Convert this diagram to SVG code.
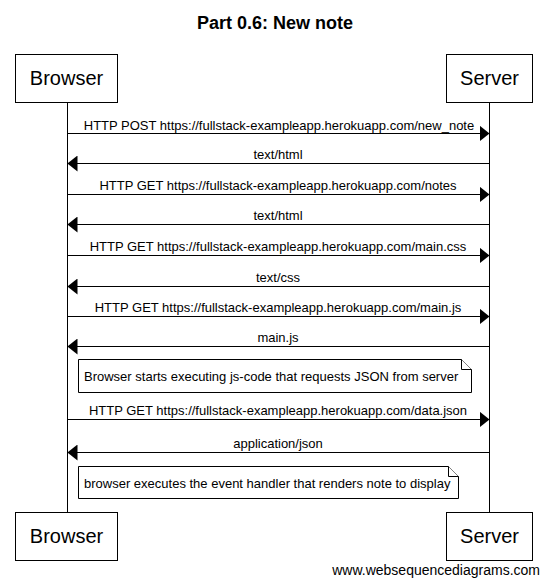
<svg xmlns="http://www.w3.org/2000/svg" width="549" height="585" viewBox="0 0 549 585">
<defs>
<marker id="ah" markerWidth="10" markerHeight="16" refX="10" refY="8" orient="auto" markerUnits="userSpaceOnUse">
<path d="M0,0 L10,8 L0,16 Z" fill="#000"/>
</marker>
</defs>
<style>
text{font-family:"Liberation Sans",Arial,sans-serif;fill:#000}
.title{font-size:18px;font-weight:bold}
.part{font-size:20px}
.lbl{font-size:13px}
.box{fill:#fff;stroke:#000;stroke-width:1}
.life{stroke:#000;stroke-width:1}
.msg{stroke:#000;stroke-width:1;fill:none;marker-end:url(#ah)}
.note{fill:#fff;stroke:#000;stroke-width:1}
</style>
<rect width="549" height="585" fill="#fff"/>
<text class="title" x="275" y="29" text-anchor="middle">Part 0.6: New note</text>
<g id="lifelines">
<line class="life" x1="67.5" y1="102" x2="67.5" y2="512"/>
<line class="life" x1="489.5" y1="102" x2="489.5" y2="512"/>
</g>
<g id="browser">
<rect class="box" x="15.5" y="54.5" width="102" height="48"/>
<text class="part" x="66.5" y="85" text-anchor="middle">Browser</text>
</g>
<g id="server">
<rect class="box" x="446.5" y="54.5" width="86" height="48"/>
<text class="part" x="489.5" y="85" text-anchor="middle">Server</text>
</g>
<g id="browser-bottom">
<rect class="box" x="15.5" y="512.5" width="102" height="48"/>
<text class="part" x="66.5" y="543" text-anchor="middle">Browser</text>
</g>
<g id="server-bottom">
<rect class="box" x="446.5" y="512.5" width="86" height="48"/>
<text class="part" x="489.5" y="543" text-anchor="middle">Server</text>
</g>
<g id="connectors">
<line class="msg" x1="67.5" y1="133.5" x2="489.5" y2="133.5"/>
<text class="lbl" x="279" y="130" text-anchor="middle">HTTP POST https://fullstack-exampleapp.herokuapp.com/new_note</text>
<line class="msg" x1="489.5" y1="163.5" x2="67.5" y2="163.5"/>
<text class="lbl" x="278" y="159" text-anchor="middle">text/html</text>
<line class="msg" x1="67.5" y1="194.5" x2="489.5" y2="194.5"/>
<text class="lbl" x="278" y="190" text-anchor="middle">HTTP GET https://fullstack-exampleapp.herokuapp.com/notes</text>
<line class="msg" x1="489.5" y1="224.5" x2="67.5" y2="224.5"/>
<text class="lbl" x="278" y="220" text-anchor="middle">text/html</text>
<line class="msg" x1="67.5" y1="255.5" x2="489.5" y2="255.5"/>
<text class="lbl" x="278" y="251" text-anchor="middle">HTTP GET https://fullstack-exampleapp.herokuapp.com/main.css</text>
<line class="msg" x1="489.5" y1="286.5" x2="67.5" y2="286.5"/>
<text class="lbl" x="278" y="282" text-anchor="middle">text/css</text>
<line class="msg" x1="67.5" y1="316.5" x2="489.5" y2="316.5"/>
<text class="lbl" x="278" y="312" text-anchor="middle">HTTP GET https://fullstack-exampleapp.herokuapp.com/main.js</text>
<line class="msg" x1="489.5" y1="346.5" x2="67.5" y2="346.5"/>
<text class="lbl" x="278" y="342" text-anchor="middle">main.js</text>
<line class="msg" x1="67.5" y1="419.5" x2="489.5" y2="419.5"/>
<text class="lbl" x="278" y="415" text-anchor="middle">HTTP GET https://fullstack-exampleapp.herokuapp.com/data.json</text>
<line class="msg" x1="489.5" y1="452.5" x2="67.5" y2="452.5"/>
<text class="lbl" x="278" y="448" text-anchor="middle">application/json</text>
</g>
<g id="note1">
<path class="note" d="M78.5,359.5 H461.5 L471.5,369.5 V392.5 H78.5 Z"/>
<path class="note" d="M461.5,359.5 V369.5 H471.5" fill="none"/>
<text class="lbl" x="84" y="381">Browser starts executing js-code that requests JSON from server</text>
</g>
<g id="note2">
<path class="note" d="M78.5,466.5 H448.5 L458.5,476.5 V498.5 H78.5 Z"/>
<path class="note" d="M448.5,466.5 V476.5 H458.5" fill="none"/>
<text class="lbl" x="84" y="488">browser executes the event handler that renders note to display</text>
</g>
<text x="540" y="575" text-anchor="end" style="font-size:14px">www.websequencediagrams.com</text>
</svg>
